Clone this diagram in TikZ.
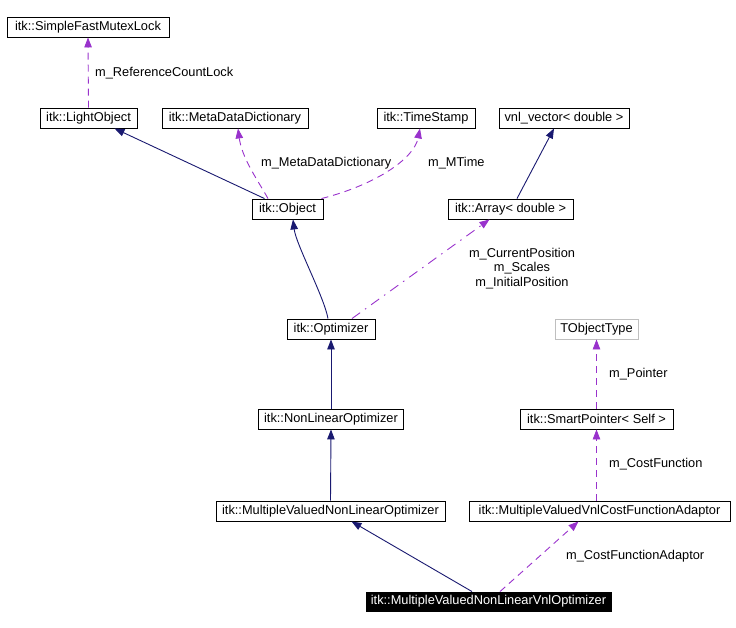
\documentclass[tikz,border=0pt]{standalone}
\usepackage{fontspec}
\setmainfont{Liberation Sans}
\usetikzlibrary{arrows.meta}
\definecolor{edgenavy}{RGB}{25,25,112}
\definecolor{edgepurple}{RGB}{153,50,204}
\definecolor{boxgray}{RGB}{191,191,191}
\begin{document}
\begin{tikzpicture}[x=1pt,y=-1pt,
  cls/.style={draw=black,line width=0.9pt,rectangle,inner sep=0pt,minimum height=20pt,font=\fontsize{12.8}{14}\selectfont},
  graycls/.style={cls,draw=boxgray},
  blackcls/.style={cls,fill=black,text=white},
  lbl/.style={font=\fontsize{12.8}{14.5}\selectfont,inner sep=0pt},
  inherit/.style={draw=edgenavy,line width=0.9pt,-{Triangle[length=10pt,width=7.5pt]},color=edgenavy},
  usage/.style={draw=edgepurple,line width=0.9pt,dash pattern=on 7pt off 5pt,-{Triangle[length=10pt,width=7.5pt]},color=edgepurple},
  usagedot/.style={draw=edgepurple,line width=0.9pt,dash pattern=on 10pt off 6pt on 1.5pt off 6pt,-{Triangle[length=10pt,width=7.5pt]},color=edgepurple}
]
\useasboundingbox (0,0) rectangle (736,628);

\node[cls,minimum width=162pt] (mutex) at (88,27) {itk::SimpleFastMutexLock};
\node[cls,minimum width=97pt] (light) at (88.5,118) {itk::LightObject};
\node[cls,minimum width=146pt] (meta) at (235,118) {itk::MetaDataDictionary};
\node[cls,minimum width=98pt] (time) at (426,118) {itk::TimeStamp};
\node[cls,minimum width=130pt] (vnl) at (564,118) {vnl\_vector< double >};
\node[cls,minimum width=71pt] (obj) at (287.5,209) {itk::Object};
\node[cls,minimum width=125pt] (arr) at (510.5,209) {itk::Array< double >};
\node[cls,minimum width=88pt] (opt) at (331,329) {itk::Optimizer};
\node[graycls,minimum width=83pt] (tobj) at (596.5,329) {TObjectType};
\node[cls,minimum width=145pt] (nonlin) at (331,419) {itk::NonLinearOptimizer};
\node[cls,minimum width=153pt] (smart) at (596.5,419) {itk::SmartPointer< Self >};
\node[cls,minimum width=229pt] (mvnlo) at (330.5,511) {itk::MultipleValuedNonLinearOptimizer};
\node[cls,minimum width=261pt] (adapt) at (599.5,511) {itk::MultipleValuedVnlCostFunctionAdaptor};
\node[blackcls,minimum width=245pt,minimum height=19pt] (vnlopt) at (488.5,601.5) {itk::MultipleValuedNonLinearVnlOptimizer};

% edges
\draw[usage] (light.north) -- (mutex.south);
\node[lbl,anchor=west] (l1) at (95,73) {m\_ReferenceCountLock};

\draw[inherit] ([xshift=-23pt]obj.north) -- ([xshift=26pt]light.south);
\draw[usage] ([xshift=-19.5pt]obj.north) .. controls +(-10,-18) and +(4,30) .. ([xshift=3pt]meta.south);
\node[lbl,anchor=west] (l2) at (261,163) {m\_MetaDataDictionary};
\draw[usage] ([xshift=34pt]obj.north) .. controls +(55,-14) and +(-6,30) .. ([xshift=-6pt]time.south);
\node[lbl,anchor=west] (l3) at (428,163) {m\_MTime};

\draw[inherit] ([xshift=6.5pt]arr.north) -- ([xshift=-10pt]vnl.south);

\draw[inherit] ([xshift=-3pt]opt.north) .. controls +(-4,-22) and +(3,25) .. ([xshift=5.5pt]obj.south);
\draw[usagedot] ([xshift=21pt]opt.north) -- ([xshift=-21pt]arr.south);
\node[lbl,align=center] (l4) at (522,268.5) {m\_CurrentPosition\\m\_Scales\\m\_InitialPosition};

\draw[inherit] (nonlin.north) -- (opt.south);
\draw[inherit] (mvnlo.north) -- (nonlin.south);

\draw[usage] (smart.north) -- (tobj.south);
\node[lbl,anchor=west] (l5) at (609,374) {m\_Pointer};
\draw[usage] ([xshift=-3pt]adapt.north) -- (smart.south);
\node[lbl,anchor=west] (l6) at (609,464) {m\_CostFunction};

\draw[inherit] ([xshift=-16.5pt]vnlopt.north) -- ([xshift=21pt]mvnlo.south);
\draw[usage] ([xshift=11.5pt]vnlopt.north) -- ([xshift=-21pt]adapt.south);
\node[lbl,anchor=west] (l7) at (566,556) {m\_CostFunctionAdaptor};
\end{tikzpicture}
\end{document}
